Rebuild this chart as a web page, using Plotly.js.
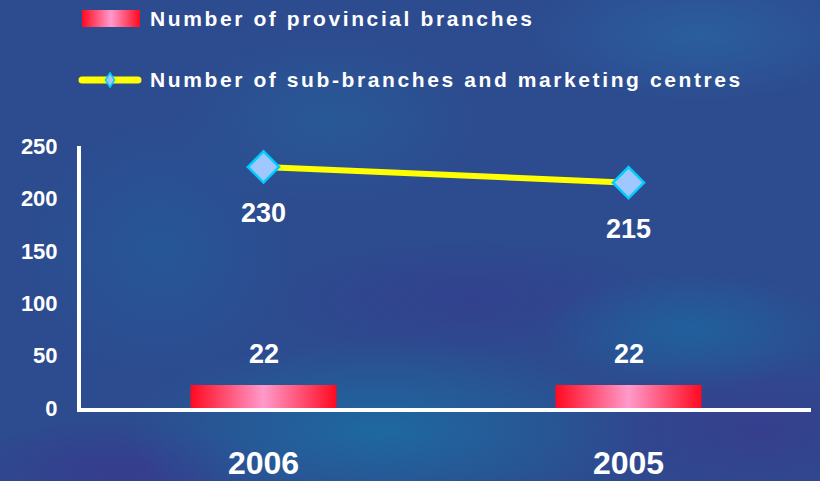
<!DOCTYPE html>
<html>
<head>
<meta charset="utf-8">
<script src="https://cdn.plot.ly/plotly-3.0.1.min.js"></script>
<style>
  html, body { margin: 0; padding: 0; }
  #chart {
    width: 820px; height: 481px;
    background:
      radial-gradient(ellipse 180px 70px at 700px 35px, rgba(40,110,170,0.55), rgba(40,110,170,0) 100%),
      radial-gradient(ellipse 160px 90px at 330px 120px, rgba(35,105,160,0.45), rgba(35,105,160,0) 100%),
      radial-gradient(ellipse 260px 90px at 380px 430px, rgba(25,115,165,0.75), rgba(25,115,165,0) 100%),
      radial-gradient(ellipse 150px 60px at 690px 330px, rgba(25,110,165,0.6), rgba(25,110,165,0) 100%),
      radial-gradient(ellipse 140px 140px at 160px 250px, rgba(30,100,160,0.45), rgba(30,100,160,0) 100%),
      radial-gradient(ellipse 200px 60px at 470px 300px, rgba(55,55,140,0.5), rgba(55,55,140,0) 100%),
      radial-gradient(ellipse 160px 50px at 120px 470px, rgba(60,50,140,0.6), rgba(60,50,140,0) 100%),
      radial-gradient(ellipse 200px 80px at 760px 430px, rgba(60,55,140,0.6), rgba(60,55,140,0) 100%),
      #2d4b8f;
  }
</style>
</head>
<body>
<div id="chart"></div>
<script>
// ---- data ----
var categories = ['2006', '2005'];
var provincialBranches = [22, 22];
var subBranches = [230, 215];
var seriesNames = ['Number of provincial branches', 'Number of sub-branches and marketing centres'];
var yTicks = [0, 50, 100, 150, 200, 250];

var font = 'Liberation Sans, Arial, sans-serif';
var W = 820, H = 481, M = { l: 81, r: 9, t: 146, b: 73 };
var PW = W - M.l - M.r, PH = H - M.t - M.b;
function px(x) { return (x - M.l) / PW; }      // pixel x -> paper x
function py(y) { return (H - M.b - y) / PH; }  // pixel y -> paper y

var data = [
  {
    type: 'bar', name: seriesNames[0], x: categories, y: provincialBranches,
    width: 0.4, marker: { color: '#ff5080', line: { width: 0 } }, hoverinfo: 'none'
  },
  {
    type: 'scatter', mode: 'lines+markers', name: seriesNames[1], x: categories, y: subBranches,
    line: { color: '#ffff00', width: 6 },
    marker: { symbol: 'diamond', size: 24, color: '#a0c8ff', line: { color: '#00ccff', width: 2.5 } },
    hoverinfo: 'none'
  }
];

var labelFont = { family: font, size: 27, color: '#ffffff', weight: 'bold' };
var annotations = [];
categories.forEach(function (c, i) {
  annotations.push({ xref: 'x', yref: 'y', x: i, y: subBranches[i], text: String(subBranches[i]),
    showarrow: false, yshift: -46, font: labelFont });
  annotations.push({ xref: 'x', yref: 'y', x: i, y: provincialBranches[i], text: String(provincialBranches[i]),
    showarrow: false, yshift: 31, font: labelFont });
});
// legend texts
var legendY = [18, 80];
seriesNames.forEach(function (n, i) {
  annotations.push({ xref: 'paper', yref: 'paper', x: px(148), y: py(legendY[i]), xanchor: 'left', yanchor: 'middle',
    align: 'left', text: n, showarrow: false,
    font: { family: font, size: 21, color: '#ffffff', weight: 'bold' } });
});

// legend symbols
var shapes = [
  { type: 'rect', xref: 'paper', yref: 'paper', x0: px(82), x1: px(140), y0: py(27), y1: py(10),
    fillcolor: '#ff5080', line: { width: 0 } },
  { type: 'line', xref: 'paper', yref: 'paper', x0: px(82), x1: px(138), y0: py(80), y1: py(80),
    line: { color: '#ffff00', width: 7 } },
  { type: 'path', xref: 'paper', yref: 'paper',
    path: 'M' + px(110) + ',' + py(73) + ' L' + px(114.5) + ',' + py(80) + ' L' + px(110) + ',' + py(87) +
          ' L' + px(105.5) + ',' + py(80) + ' Z',
    fillcolor: '#a0c8ff', line: { color: '#00ccff', width: 1.5 } }
];

var layout = {
  width: W, height: H,
  margin: M,
  paper_bgcolor: 'rgba(0,0,0,0)', plot_bgcolor: 'rgba(0,0,0,0)',
  showlegend: false,
  xaxis: {
    type: 'category', range: [-0.5, 1.5], showgrid: false, zeroline: false, automargin: false,
    showline: true, linecolor: '#ffffff', linewidth: 4, ticks: '',
    ticklabelstandoff: 24, tickfont: { family: font, size: 32, color: '#ffffff', weight: 'bold' }
  },
  yaxis: {
    range: [0, 250], tickvals: yTicks, showgrid: false, zeroline: false, automargin: false,
    showline: true, linecolor: '#ffffff', linewidth: 4, ticks: '',
    ticklabelstandoff: 15, tickfont: { family: font, size: 22, color: '#ffffff', weight: 'bold' }
  },
  annotations: annotations,
  shapes: shapes
};

var gd = document.getElementById('chart');
Plotly.newPlot(gd, data, layout, { staticPlot: true, displayModeBar: false }).then(function () {
  var NS = 'http://www.w3.org/2000/svg';
  var svg = gd.querySelector('svg.main-svg');
  var defs = svg.querySelector('defs') || svg.insertBefore(document.createElementNS(NS, 'defs'), svg.firstChild);
  var grad = document.createElementNS(NS, 'linearGradient');
  grad.setAttribute('id', 'barGrad');
  grad.setAttribute('x1', '0'); grad.setAttribute('x2', '1');
  grad.setAttribute('y1', '0'); grad.setAttribute('y2', '0');
  [['0', '#ff0a20'], ['0.5', '#ff9acb'], ['1', '#ff0a20']].forEach(function (s) {
    var st = document.createElementNS(NS, 'stop');
    st.setAttribute('offset', s[0]); st.setAttribute('stop-color', s[1]);
    grad.appendChild(st);
  });
  defs.appendChild(grad);
  gd.querySelectorAll('.barlayer .point path').forEach(function (p) { p.style.fill = 'url(#barGrad)'; });
  var shp = gd.querySelectorAll('.shapelayer path');
  if (shp[0]) shp[0].style.fill = 'url(#barGrad)';
  if (shp[1]) shp[1].style.strokeLinecap = 'round';
  var ann = gd.querySelectorAll('.annotation');
  for (var k = ann.length - 2; k < ann.length; k++) {
    var t = ann[k].querySelector('.annotation-text');
    if (t) t.style.letterSpacing = '2.6px';
  }
});
</script>
</body>
</html>
